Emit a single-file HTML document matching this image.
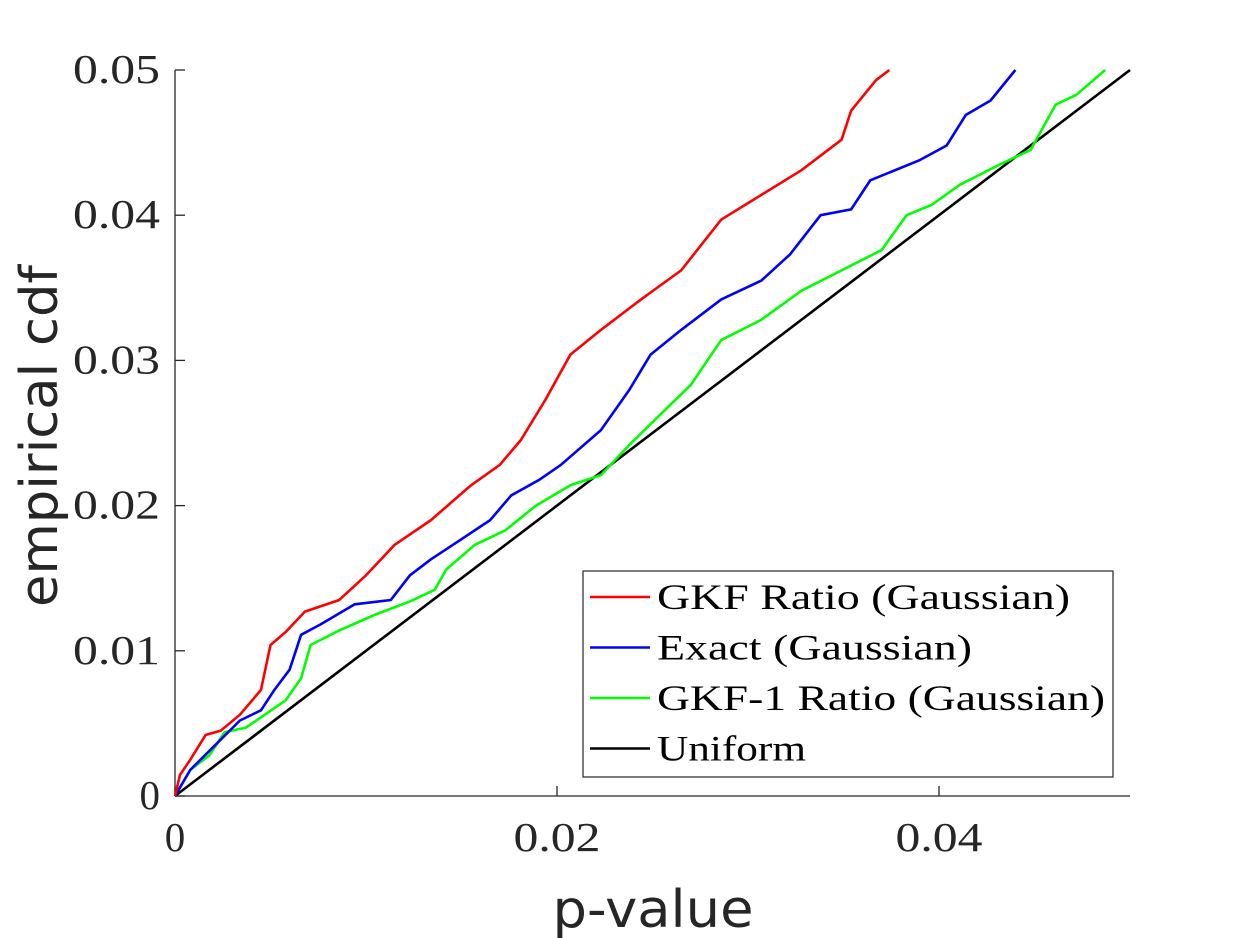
<!DOCTYPE html>
<html><head><meta charset="utf-8"><style>
html,body{margin:0;padding:0;background:#fff;}
svg{display:block;}
.tick{font-family:"Liberation Serif",serif;font-size:41px;fill:#262626;}
.lab{font-family:"DejaVu Sans",sans-serif;font-size:52px;fill:#262626;}
.leg{font-family:"Liberation Serif",serif;font-size:36px;fill:#000;}
</style></head><body>
<svg id="chart" width="1250" height="938">
<g id="axes"></g>
<g id="series"></g>
<g id="legend"></g>
</svg>
<script>
const xTicks=[0,0.02,0.04];
const xTickLabels=["0","0.02","0.04"];
const yTicks=[0,0.01,0.02,0.03,0.04,0.05];
const yTickLabels=["0","0.01","0.02","0.03","0.04","0.05"];
const redX=[0,0.00026,0.0008,0.0016,0.0024,0.0034,0.0045,0.005,0.0058,0.0068,0.0086,0.01,0.0115,0.0134,0.0155,0.017,0.0181,0.0194,0.0207,0.0223,0.0244,0.0265,0.0286,0.0307,0.0328,0.0349,0.0354,0.0367,0.0374];
const redY=[0,0.00145,0.0025,0.0042,0.0045,0.0056,0.0073,0.0104,0.0113,0.0127,0.0135,0.0152,0.0173,0.019,0.0214,0.0228,0.0245,0.0273,0.0304,0.0321,0.0342,0.0362,0.0397,0.0414,0.0431,0.0452,0.0472,0.0493,0.05];
const blueX=[0,0.0008,0.0021,0.0034,0.0045,0.0052,0.006,0.0066,0.0076,0.0094,0.0113,0.0123,0.0134,0.0149,0.0165,0.0176,0.0191,0.0202,0.0223,0.0238,0.0249,0.0265,0.0286,0.0307,0.0322,0.0338,0.0354,0.0364,0.039,0.0404,0.0414,0.0427,0.044];
const blueY=[0,0.0018,0.0035,0.0052,0.0059,0.0073,0.0087,0.0111,0.0118,0.0132,0.0135,0.0152,0.0163,0.0176,0.019,0.0207,0.0218,0.0228,0.0252,0.028,0.0304,0.0321,0.0342,0.0355,0.0373,0.04,0.0404,0.0424,0.0438,0.0448,0.0469,0.0479,0.05];
const greenX=[0,0.0008,0.0018,0.0026,0.0037,0.0047,0.0058,0.0066,0.0071,0.0086,0.0105,0.0123,0.0136,0.0142,0.0157,0.0173,0.0189,0.0207,0.0223,0.0238,0.0259,0.027,0.0286,0.0307,0.0328,0.0349,0.037,0.0383,0.0396,0.0411,0.0432,0.0448,0.0461,0.0472,0.0487];
const greenY=[0,0.0018,0.0028,0.0044,0.0047,0.0056,0.0066,0.0081,0.0104,0.0114,0.0125,0.0134,0.0142,0.0156,0.0173,0.0183,0.02,0.0214,0.0221,0.0242,0.0269,0.0283,0.0314,0.0328,0.0348,0.0362,0.0376,0.04,0.0407,0.0421,0.0435,0.0445,0.0476,0.0483,0.05];
const uniX=[0,0.05];
const uniY=[0,0.05];
const legendLabels=["GKF Ratio (Gaussian)","Exact (Gaussian)","GKF-1 Ratio (Gaussian)","Uniform"];
const legendWidths=[413,315,448,149];

const NS="http://www.w3.org/2000/svg";
const X0=175,X1=1130,Y0=796,Y1=70;
const xs=v=>X0+(v/0.05)*(X1-X0);
const ys=v=>Y0-(v/0.05)*(Y0-Y1);
function mk(tag,parent,attrs){const e=document.createElementNS(NS,tag);for(const k in attrs)e.setAttribute(k,attrs[k]);parent.appendChild(e);return e;}
const axes=document.getElementById('axes');
let e=mk('line',axes,{x1:X0,y1:Y0,x2:X1,y2:Y0,stroke:'#262626','stroke-width':1.3});


e=mk('line',axes,{x1:X0,y1:Y0,x2:X0,y2:Y1,stroke:'#262626','stroke-width':1.3});


xTicks.forEach((t,i)=>{
  mk('line',axes,{x1:xs(t),y1:Y0,x2:xs(t),y2:Y0-10,stroke:'#262626','stroke-width':1.3});
  const attrs={x:xs(t),y:Y0+55,'text-anchor':'middle',class:'tick'};
  if(xTickLabels[i].length>1){attrs.textLength=87;attrs.lengthAdjust='spacingAndGlyphs';}
  const tx=mk('text',axes,attrs);
  tx.textContent=xTickLabels[i];
  
  
});
yTicks.forEach((t,i)=>{
  mk('line',axes,{x1:X0,y1:ys(t),x2:X0+10,y2:ys(t),stroke:'#262626','stroke-width':1.3});
  const attrs={x:X0-15,y:ys(t)+13,'text-anchor':'end',class:'tick'};
  if(yTickLabels[i].length>1){attrs.textLength=87;attrs.lengthAdjust='spacingAndGlyphs';}
  const tx=mk('text',axes,attrs);
  tx.textContent=yTickLabels[i];
  
  
});
e=mk('text',axes,{x:653,y:927,'text-anchor':'middle',class:'lab',textLength:201,lengthAdjust:'spacingAndGlyphs'});
e.textContent='p-value';


e=mk('text',axes,{x:0,y:0,'text-anchor':'middle',class:'lab',textLength:342,lengthAdjust:'spacingAndGlyphs',transform:'translate(57,436) rotate(-90)'});
e.textContent='empirical cdf';



const ser=document.getElementById('series');
function line(X,Y,color,name){
  const p=mk('polyline',ser,{points:X.map((x,i)=>xs(x)+','+ys(Y[i])).join(' '),fill:'none',stroke:color,'stroke-width':2.6,'stroke-linejoin':'round'});
  
  
}
line(uniX,uniY,'#000','uniform-line');
line(greenX,greenY,'#00ff00','gkf1-ratio-line');
line(blueX,blueY,'#0000ff','exact-line');
line(redX,redY,'#ff0000','gkf-ratio-line');

const leg=document.getElementById('legend');
e=mk('rect',leg,{x:583,y:571,width:530,height:206,fill:'#fff',stroke:'#262626','stroke-width':1.2});


const cols=['#ff0000','#0000ff','#00ff00','#000'];
legendLabels.forEach((l,i)=>{
  const y=597+i*50.5;
  mk('line',leg,{x1:590,y1:y,x2:650,y2:y,stroke:cols[i],'stroke-width':2.6});
  const t=mk('text',leg,{x:657,y:y+12,class:'leg',textLength:legendWidths[i],lengthAdjust:'spacingAndGlyphs'});
  t.textContent=l;
  
  
});
</script>
</body></html>
